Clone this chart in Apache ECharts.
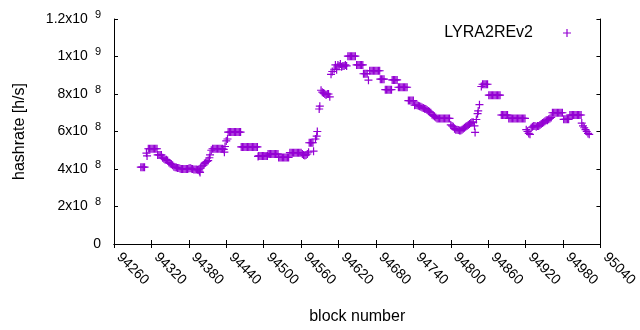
<!DOCTYPE html>
<html>
<head>
<meta charset="utf-8">
<script src="https://cdn.jsdelivr.net/npm/echarts@6/dist/echarts.min.js"></script>
<style>
  html,body{margin:0;padding:0;background:#fff;}
  #main{width:640px;height:330px;}
</style>
</head>
<body>
<div id="main"></div>
<script>
  // block numbers and hashrate (x 1e8 h/s)
  var blocks = [
    94303, 94305, 94307, 94309, 94312, 94313,
    94315, 94317, 94319, 94321, 94323, 94325, 94327, 94329,
    94330, 94332, 94334, 94336,
    94338, 94340, 94342, 94344, 94346,
    94348, 94350, 94352, 94354,
    94356, 94358, 94360, 94362, 94364,
    94366, 94368, 94370, 94372, 94374, 94376, 94378, 94380, 94382, 94384, 94386, 94388, 94390, 94392, 94394, 94396,
    94397, 94398,
    94399, 94401, 94403, 94405, 94407, 94409, 94411, 94413, 94414,
    94416, 94418, 94420, 94422, 94424, 94426, 94428, 94430, 94432, 94434,
    94436, 94437, 94438, 94440, 94442,
    94443, 94445, 94447, 94449, 94451, 94453, 94455, 94457, 94459, 94461, 94463,
    94464, 94466, 94468, 94470, 94472, 94474, 94476, 94478, 94480, 94482, 94484, 94486, 94488, 94490,
    94491,
    94492, 94494, 94496, 94498, 94500, 94502, 94504, 94506,
    94507, 94509, 94511, 94513, 94515, 94517, 94519, 94521, 94523,
    94524, 94526, 94528, 94530, 94532, 94534, 94536, 94538, 94540,
    94542, 94544, 94546, 94548, 94550, 94552, 94554, 94556, 94558, 94560,
    94562, 94564, 94566, 94568, 94570, 94572,
    94573, 94575, 94577, 94579, 94580,
    94583, 94585, 94586, 94589, 94590,
    94592, 94594, 94596, 94598, 94600, 94602, 94604, 94606,
    94608, 94610, 94613, 94615, 94617, 94619, 94621, 94623, 94625, 94627, 94629, 94631, 94633,
    94635, 94637, 94639, 94641, 94643, 94645, 94647,
    94649, 94651, 94653, 94655, 94657, 94659,
    94660, 94662, 94664, 94666, 94668,
    94670, 94672, 94674, 94676, 94678, 94680, 94682, 94684, 94686,
    94687, 94689, 94691, 94693,
    94695, 94697, 94699, 94701, 94703, 94705,
    94706, 94708, 94710, 94712, 94714,
    94716, 94718, 94720, 94722, 94724, 94726, 94728, 94730,
    94732, 94734, 94736, 94738, 94740,
    94742, 94744, 94746, 94748, 94750, 94752, 94754, 94756, 94758, 94760, 94762, 94764, 94766, 94768, 94770, 94772, 94774, 94776,
    94778, 94780, 94782, 94784, 94786, 94788, 94790, 94792, 94794, 94796, 94798,
    94800, 94802, 94804,
    94806, 94808, 94810, 94812, 94814, 94816, 94818, 94820,
    94822, 94824, 94826, 94828, 94830, 94832, 94834, 94836,
    94838, 94839, 94841, 94843, 94844, 94846, 94849,
    94851, 94853, 94855, 94857, 94859,
    94861, 94863, 94865, 94867, 94869, 94871, 94873, 94875, 94877, 94879,
    94881, 94883, 94885, 94887, 94889, 94891,
    94893, 94895, 94897, 94899, 94901, 94903, 94905, 94907, 94909, 94911, 94913, 94915, 94917, 94919,
    94921, 94923, 94925, 94927,
    94929, 94931, 94933, 94935, 94937, 94939, 94941, 94943, 94945,
    94947, 94949, 94951, 94953, 94955, 94957, 94959, 94961,
    94963, 94965, 94967, 94969, 94971, 94973, 94975, 94977, 94979,
    94981, 94983, 94985, 94987, 94989,
    94991, 94993, 94995, 94997, 94999, 95001, 95003, 95005, 95007, 95009,
    95010, 95012, 95014, 95016, 95018, 95020, 95022
  ];
  var hashrate = [
    4.1, 4.1, 4.1, 4.1, 4.85, 4.7,
    5.08, 5.08, 5.08, 5.08, 5.08, 5.08, 5.08, 5.08,
    4.75, 4.75, 4.75, 4.75,
    4.6, 4.55, 4.5, 4.5, 4.45,
    4.35, 4.3, 4.25, 4.2,
    4.12, 4.1, 4.08, 4.05, 4.05,
    4.02, 4.0, 4.0, 4.0, 4.0, 4.0, 4.0, 4.03, 4.05, 4.02, 4.0, 3.98, 3.97, 3.97, 3.96, 3.95,
    3.88, 3.82,
    4.05, 4.15, 4.2, 4.3, 4.35, 4.4, 4.45, 4.6, 4.75,
    5.0, 5.08, 5.08, 5.08, 5.08, 5.08, 5.08, 5.08, 5.08, 5.08,
    5.05, 4.9, 5.2, 5.5, 5.6,
    5.97, 5.97, 5.97, 5.97, 5.97, 5.97, 5.97, 5.97, 5.97, 5.97, 5.97,
    5.18, 5.18, 5.18, 5.18, 5.18, 5.18, 5.18, 5.18, 5.18, 5.18, 5.18, 5.18, 5.18, 5.18,
    4.67,
    4.7, 4.7, 4.7, 4.7, 4.7, 4.7, 4.7, 4.7,
    4.8, 4.8, 4.8, 4.8, 4.8, 4.8, 4.8, 4.8, 4.8,
    4.62, 4.62, 4.62, 4.62, 4.62, 4.62, 4.62, 4.62, 4.62,
    4.87, 4.87, 4.87, 4.87, 4.87, 4.87, 4.87, 4.87, 4.87, 4.87,
    4.8, 4.75, 4.72, 4.75, 4.8, 4.9,
    5.4, 5.4, 5.4, 5.4, 4.95,
    5.6, 5.75, 6.0, 7.2, 7.35,
    8.2, 8.1, 8.05, 8.0, 7.95, 8.0, 8.0, 7.85,
    9.05, 9.2, 9.32, 9.55, 9.3, 9.55, 9.5, 9.6, 9.45, 9.5, 9.5, 9.55, 9.5,
    10.02, 10.02, 10.02, 10.02, 10.02, 10.02, 10.02,
    9.55, 9.55, 9.55, 9.55, 9.55, 9.55,
    9.08, 9.08, 9.08, 9.08, 8.74,
    9.24, 9.24, 9.24, 9.24, 9.24, 9.24, 9.24, 9.24, 9.24,
    8.79, 8.79, 8.79, 8.79,
    8.23, 8.23, 8.23, 8.23, 8.23, 8.23,
    8.75, 8.75, 8.75, 8.75, 8.75,
    8.36, 8.36, 8.36, 8.36, 8.36, 8.36, 8.36, 8.36,
    7.65, 7.65, 7.65, 7.65, 7.65,
    7.4, 7.42, 7.4, 7.38, 7.35, 7.32, 7.28, 7.25, 7.22, 7.2, 7.15, 7.1, 7.05, 7.0, 6.9, 6.85, 6.8, 6.75,
    6.7, 6.7, 6.7, 6.7, 6.7, 6.7, 6.7, 6.7, 6.7, 6.7, 6.7,
    6.35, 6.3, 6.25,
    6.15, 6.1, 6.1, 6.08, 6.05, 6.05, 6.1, 6.15,
    6.2, 6.25, 6.3, 6.35, 6.4, 6.45, 6.5, 6.5,
    6.3, 5.95, 6.64, 6.95, 7.1, 7.43, 8.4,
    8.52, 8.52, 8.52, 8.52, 8.52,
    7.94, 7.94, 7.94, 7.94, 7.94, 7.94, 7.94, 7.94, 7.94, 7.94,
    6.88, 6.88, 6.88, 6.88, 6.88, 6.88,
    6.7, 6.7, 6.7, 6.7, 6.7, 6.7, 6.7, 6.7, 6.7, 6.7, 6.7, 6.7, 6.7, 6.7,
    6.1, 6.0, 5.9, 5.85,
    6.2, 6.25, 6.3, 6.3, 6.25, 6.3, 6.3, 6.35, 6.4,
    6.45, 6.5, 6.55, 6.6, 6.6, 6.65, 6.7, 6.75,
    7.0, 7.0, 7.0, 7.0, 7.0, 7.0, 7.0, 7.0, 7.0,
    6.65, 6.65, 6.65, 6.65, 6.65,
    6.88, 6.88, 6.88, 6.88, 6.88, 6.88, 6.88, 6.88, 6.88, 6.88,
    6.45, 6.3, 6.2, 6.1, 6.0, 5.9, 5.85
  ];
  var seriesName = 'LYRA2REv2';

  var plus = 'path://M-0.15,-1L0.15,-1L0.15,-0.15L1,-0.15L1,0.15L0.15,0.15L0.15,1L-0.15,1L-0.15,0.15L-1,0.15L-1,-0.15L-0.15,-0.15Z';
  var font = 'Liberation Sans, Arial, sans-serif';

  var points = [];
  for (var i = 0; i < blocks.length; i++) {
    points.push([blocks[i], hashrate[i] * 1e8]);
  }

  // gnuplot style "8x10^8" labels
  function sciLabel(v) {
    if (v === 0) return '{m|0}';
    var e = Math.floor(Math.log10(v) + 1e-9);
    var m = +(v / Math.pow(10, e)).toFixed(2);
    return '{m|' + m + 'x10}{e|' + e + '}';
  }

  var chart = echarts.init(document.getElementById('main'));
  var option = {
    animation: false,
    grid: { left: 114, right: 31, top: 19, bottom: 85 },
    legend: {
      data: [seriesName],
      right: 64,
      top: 20,
      align: 'right',
      icon: plus,
      itemWidth: 58,
      itemHeight: 8,
      textStyle: { fontSize: 16, fontFamily: font, color: '#000' }
    },
    xAxis: [{
      type: 'value',
      min: 94260, max: 95040, interval: 60,
      name: 'block number',
      nameLocation: 'middle',
      nameGap: 65,
      nameTextStyle: { fontSize: 16, fontFamily: font, color: '#000' },
      axisLine: { lineStyle: { color: '#000', width: 1 } },
      axisTick: { inside: true, length: 4, lineStyle: { color: '#000' } },
      axisLabel: {
        rotate: -45, margin: 16, fontSize: 14, fontFamily: font, color: '#000',
        align: 'left', verticalAlign: 'bottom',
        showMinLabel: true, showMaxLabel: true,
        formatter: function (v) { return String(v); }
      },
      splitLine: { show: false }
    }, {
      type: 'value', position: 'top',
      min: 94260, max: 95040, interval: 60,
      axisLine: { show: true, lineStyle: { color: '#000', width: 1 } },
      axisTick: { inside: true, length: 4, lineStyle: { color: '#000' } },
      axisLabel: { show: false },
      splitLine: { show: false }
    }],
    yAxis: [{
      type: 'value',
      min: 0, max: 1.2e9, interval: 2e8,
      name: 'hashrate [h/s]',
      nameLocation: 'middle',
      nameGap: 86,
      nameTextStyle: { fontSize: 16, fontFamily: font, color: '#000' },
      axisLine: { show: true, lineStyle: { color: '#000', width: 1 } },
      axisTick: { inside: true, length: 4, lineStyle: { color: '#000' } },
      axisLabel: {
        margin: 13,
        formatter: sciLabel,
        rich: {
          m: { fontSize: 14, fontFamily: font, color: '#000', lineHeight: 20 },
          e: { fontSize: 11, fontFamily: font, color: '#000', verticalAlign: 'top', padding: [0, 0, 0, 7] }
        }
      },
      splitLine: { show: false }
    }, {
      type: 'value', position: 'right',
      min: 0, max: 1.2e9, interval: 2e8,
      axisLine: { show: true, lineStyle: { color: '#000', width: 1 } },
      axisTick: { inside: true, length: 4, lineStyle: { color: '#000' } },
      axisLabel: { show: false },
      splitLine: { show: false }
    }],
    series: [{
      name: seriesName,
      type: 'scatter',
      data: points,
      symbol: plus,
      symbolSize: 8,
      itemStyle: { color: '#9400d3', opacity: 1 }
    }]
  };
  chart.setOption(option);
</script>
</body>
</html>
